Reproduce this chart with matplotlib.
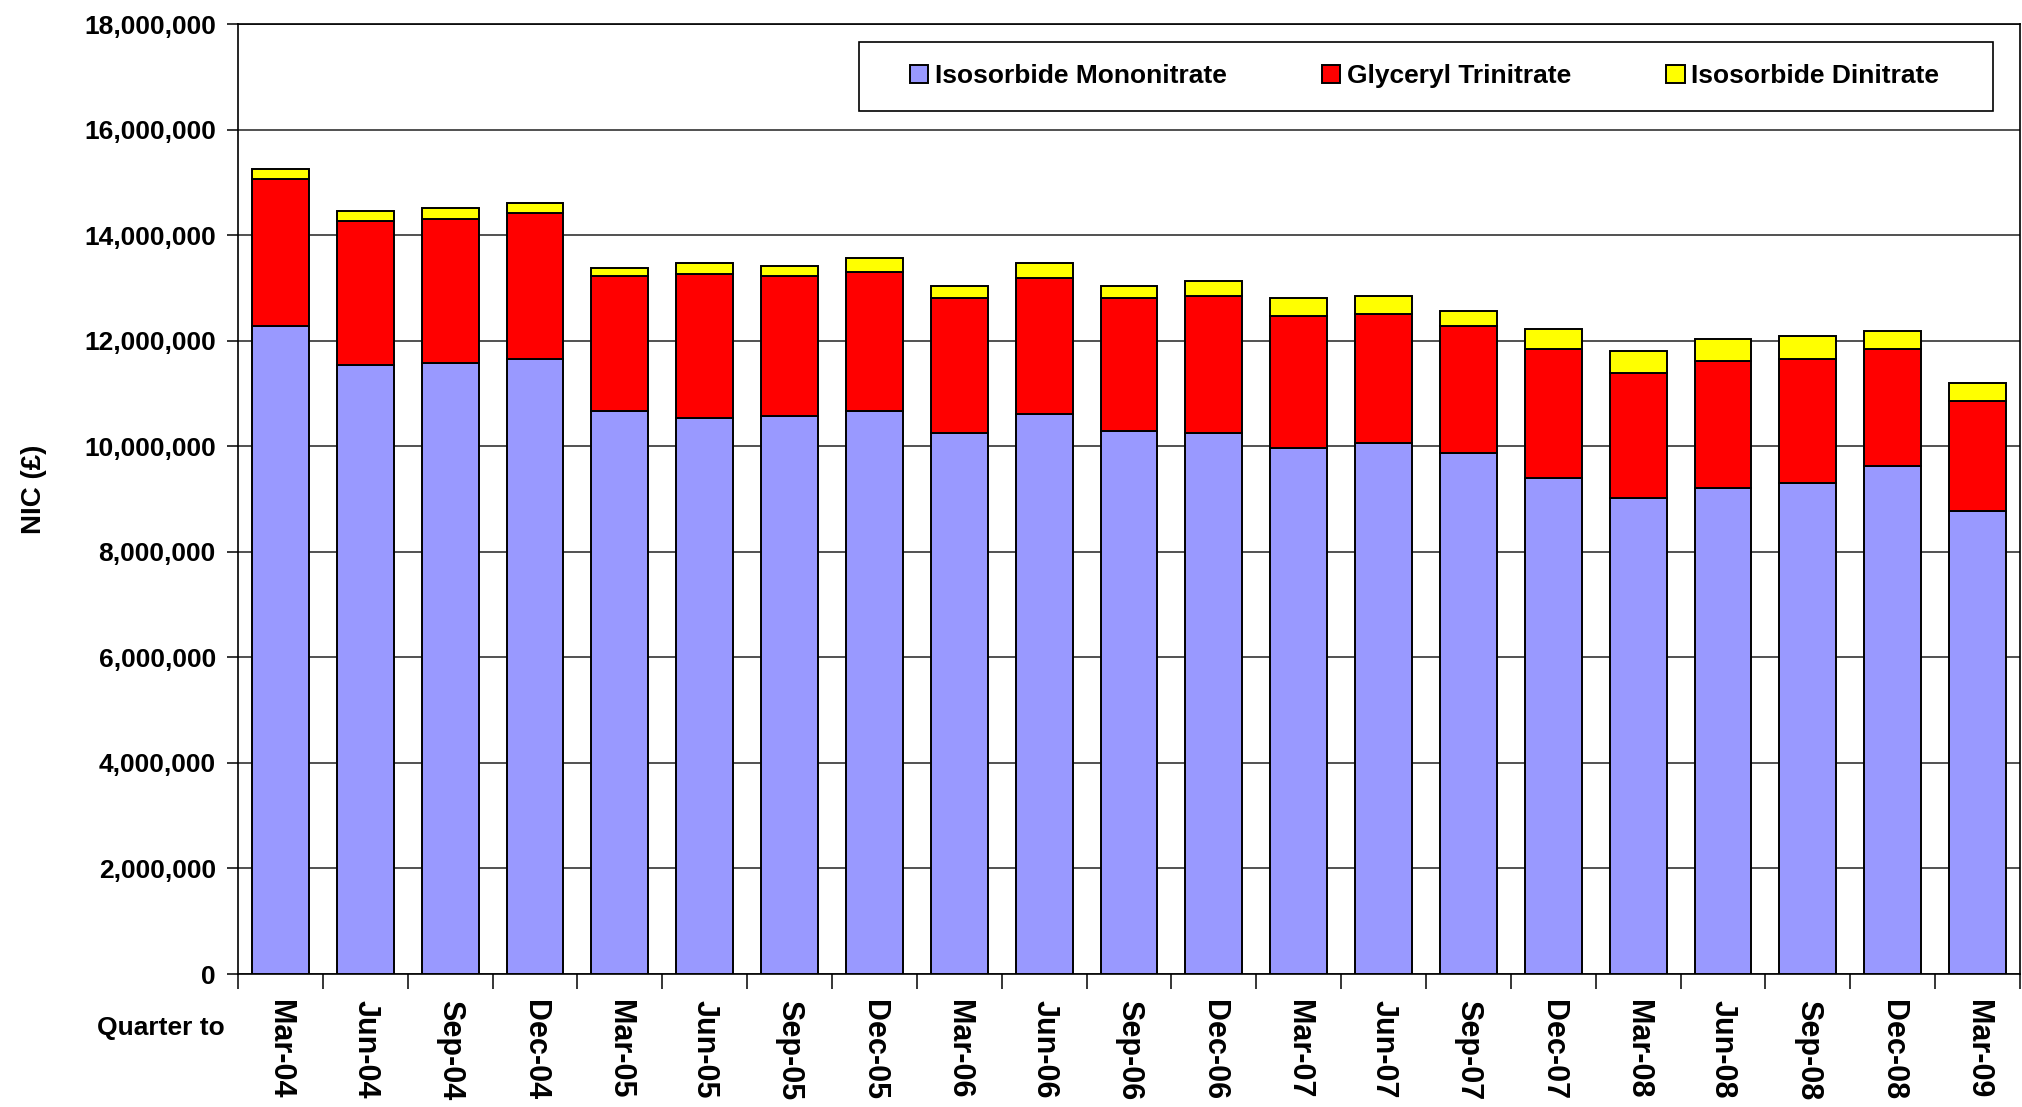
import matplotlib
matplotlib.use("Agg")
import matplotlib.pyplot as plt
import numpy as np
from matplotlib.ticker import FuncFormatter, FixedLocator
from matplotlib.patches import Rectangle

quarters = ["Mar-04", "Jun-04", "Sep-04", "Dec-04", "Mar-05", "Jun-05", "Sep-05",
            "Dec-05", "Mar-06", "Jun-06", "Sep-06", "Dec-06", "Mar-07", "Jun-07",
            "Sep-07", "Dec-07", "Mar-08", "Jun-08", "Sep-08", "Dec-08", "Mar-09"]

isosorbide_mononitrate = [12280000, 11530000, 11570000, 11660000, 10670000, 10530000, 10580000,
                          10670000, 10260000, 10620000, 10290000, 10250000, 9960000, 10070000,
                          9870000, 9400000, 9020000, 9210000, 9310000, 9630000, 8780000]
glyceryl_trinitrate = [2780000, 2730000, 2740000, 2750000, 2550000, 2740000, 2640000,
                       2640000, 2540000, 2560000, 2510000, 2590000, 2510000, 2430000,
                       2410000, 2450000, 2370000, 2400000, 2350000, 2220000, 2080000]
isosorbide_dinitrate = [200000, 200000, 200000, 200000, 150000, 200000, 200000,
                        250000, 240000, 290000, 240000, 300000, 330000, 350000,
                        290000, 380000, 410000, 430000, 430000, 330000, 340000]

series_names = ["Isosorbide Mononitrate", "Glyceryl Trinitrate", "Isosorbide Dinitrate"]
series_colors = ["#9999FF", "#FF0000", "#FFFF00"]

plt.rcParams['font.family'] = ['Liberation Sans', 'DejaVu Sans']
plt.rcParams['font.weight'] = 'bold'

W, H = 2022, 1107
fig = plt.figure(figsize=(W / 100, H / 100), dpi=100)
ax = fig.add_axes([238/W, 1 - 974/H, (2020-238)/W, (974-24)/H])

x = np.arange(len(quarters))
imn = np.array(isosorbide_mononitrate)
gtn = np.array(glyceryl_trinitrate)
isdn = np.array(isosorbide_dinitrate)
w = 0.67
kw = dict(width=w, edgecolor="black", linewidth=1.4, zorder=3)
ax.bar(x, imn, color=series_colors[0], label=series_names[0], **kw)
ax.bar(x, gtn, bottom=imn, color=series_colors[1], label=series_names[1], **kw)
ax.bar(x, isdn, bottom=imn + gtn, color=series_colors[2], label=series_names[2], **kw)

ax.set_xlim(-0.5, len(quarters) - 0.5)
ax.set_ylim(0, 18000000)
ax.set_yticks(np.arange(0, 18000001, 2000000))
ax.yaxis.set_major_formatter(FuncFormatter(lambda v, p: f"{int(v):,}"))
ax.grid(axis="y", color="#222222", linewidth=1.1, zorder=0)
ax.set_axisbelow(True)

ax.set_xticks(x)
ax.set_xticklabels(quarters, rotation=-90, fontsize=22, fontweight="bold")
ax.xaxis.set_minor_locator(FixedLocator(np.arange(-0.5, len(quarters), 1.0)))
ax.tick_params(axis="x", which="major", length=0, pad=19)
ax.tick_params(axis="x", which="minor", length=11, width=1.1, direction="out")
ax.tick_params(axis="y", length=8, width=1.1, direction="out", pad=8, labelsize=19)
for lbl in ax.get_yticklabels():
    lbl.set_fontweight("bold")

for s in ax.spines.values():
    s.set_color("black")
    s.set_linewidth(1.2)

ax.set_ylabel("NIC (£)", fontsize=20, fontweight="bold")
ax.yaxis.set_label_coords((47 - 238) / (2020 - 238), (974 - 489) / 950)

fig.text(225/W, 1 - 1028/H, "Quarter to", ha="right", va="center",
         fontsize=19, fontweight="bold")

# legend frame
fig.patches.append(Rectangle((859/W, 1 - 111/H), (1993-859)/W, 69/H,
                             transform=fig.transFigure, facecolor="white",
                             edgecolor="black", linewidth=1.2, zorder=4))
leg = fig.legend(loc="center left", ncol=3, bbox_to_anchor=(910/W, 1 - 76/H),
                 fontsize=19, frameon=False,
                 handlelength=0.7, handleheight=0.7, handletextpad=0.25,
                 columnspacing=3.6, borderpad=0, borderaxespad=0)
leg.set_zorder(5)
for t in leg.get_texts():
    t.set_fontweight("bold")

fig.savefig("out.png", dpi=100)
